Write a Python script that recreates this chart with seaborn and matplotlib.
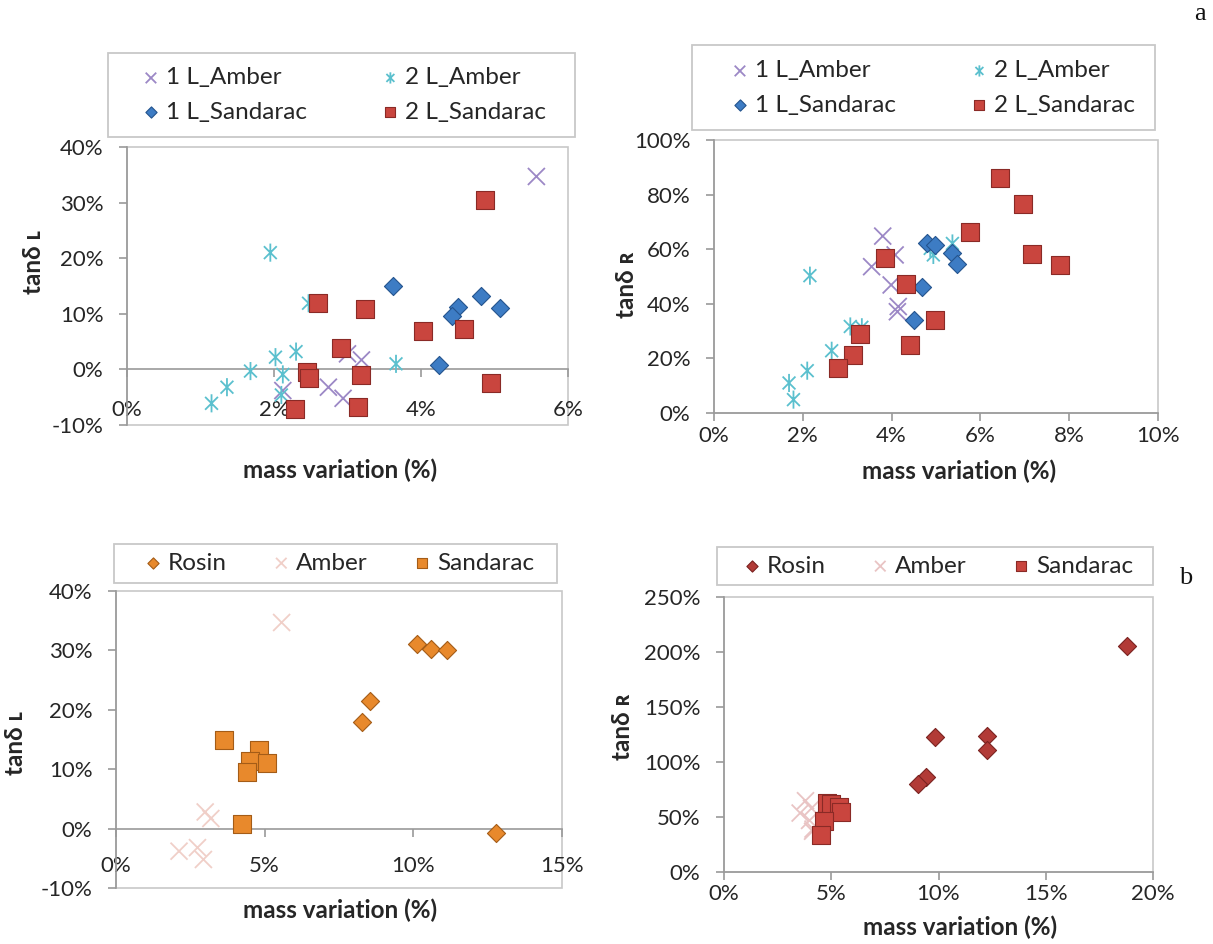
import matplotlib
matplotlib.use("Agg")
import matplotlib.pyplot as plt
from matplotlib.path import Path
from matplotlib.patches import Rectangle
from matplotlib.ticker import FuncFormatter, MultipleLocator
import seaborn as sns

sns.set_theme(style="white")
plt.rcParams['font.family'] = ['Lato', 'DejaVu Sans']

# ---------------- data (values in %) ----------------
# Panel a, left: tanδ L vs mass variation
aL_1L_amber_x = [5.57, 3.00, 3.19, 2.12, 2.74, 2.94]
aL_1L_amber_y = [34.7, 2.8, 1.7, -3.8, -3.2, -5.2]
aL_2L_amber_x = [1.95, 2.47, 2.30, 2.02, 2.12, 1.68, 1.36, 1.15, 3.66, 2.10]
aL_2L_amber_y = [21.0, 11.9, 3.2, 2.2, -0.9, -0.3, -3.2, -6.1, 1.0, -4.6]
aL_1L_sand_x = [3.62, 4.82, 4.51, 4.42, 5.07, 4.25]
aL_1L_sand_y = [15.0, 13.2, 11.3, 9.6, 11.1, 0.8]
aL_2L_sand_x = [4.87, 2.60, 3.24, 4.03, 4.59, 2.91, 2.45, 2.48, 3.18, 4.95, 2.28, 3.14]
aL_2L_sand_y = [30.5, 11.9, 10.8, 6.9, 7.2, 3.8, -0.4, -1.6, -1.0, -2.5, -7.1, -6.7]

# Panel a, right: tanδ R vs mass variation
aR_1L_amber_x = [3.80, 4.08, 3.55, 3.99, 4.15, 4.13]
aR_1L_amber_y = [64.8, 57.9, 53.6, 46.9, 39.0, 37.1]
aR_2L_amber_x = [2.16, 3.07, 3.33, 2.65, 2.10, 1.69, 1.79, 5.37, 4.87, 4.94]
aR_2L_amber_y = [50.3, 31.7, 31.4, 22.8, 15.5, 11.0, 4.9, 62.1, 60.3, 57.9]
aR_1L_sand_x = [4.79, 4.98, 5.36, 5.47, 4.68, 4.51]
aR_1L_sand_y = [62.3, 61.5, 58.7, 54.6, 46.0, 33.9]
aR_2L_sand_x = [6.45, 6.97, 5.77, 7.17, 7.80, 3.85, 4.32, 4.98, 4.42, 3.28, 3.12, 2.80]
aR_2L_sand_y = [86.1, 76.7, 66.4, 58.1, 54.2, 56.6, 47.1, 34.1, 25.0, 28.9, 21.3, 16.4]

# Panel b, left: tanδ L
bL_rosin_x = [10.12, 10.61, 11.13, 8.53, 8.27, 12.79]
bL_rosin_y = [31.0, 30.3, 30.0, 21.4, 17.9, -0.8]
bL_amber_x = aL_1L_amber_x
bL_amber_y = aL_1L_amber_y
bL_sand_x = aL_1L_sand_x
bL_sand_y = aL_1L_sand_y

# Panel b, right: tanδ R
bR_rosin_x = [18.79, 9.84, 12.25, 12.25, 9.42, 9.06]
bR_rosin_y = [205.3, 123.0, 123.6, 111.0, 86.8, 80.1]
bR_amber_x = aR_1L_amber_x
bR_amber_y = aR_1L_amber_y
bR_sand_x = aR_1L_sand_x
bR_sand_y = aR_1L_sand_y

legend_a = ["1 L_Amber", "2 L_Amber", "1 L_Sandarac", "2 L_Sandarac"]
legend_b = ["Rosin", "Amber", "Sandarac"]

# ---------------- styling ----------------
W, H = 1213, 944
fig = plt.figure(figsize=(W / 100, H / 100), dpi=100)

TXT = '#262626'
AXC = '#9A9A9A'
BORDER = '#C8C8C8'
TICK_FS = 16
LAB_FS = 17.5
LEG_FS = 17.5

M, L = Path.MOVETO, Path.LINETO
X_MARK = Path([(-1, -1), (1, 1), (-1, 1), (1, -1)], [M, L, M, L])
AST_MARK = Path([(-0.85, -0.85), (0.85, 0.85), (-0.85, 0.85), (0.85, -0.85),
                 (0, -1.2), (0, 1.2)], [M, L, M, L, M, L])


def ax_rect(x0, y0, x1, y1):
    return [x0 / W, 1 - y1 / H, (x1 - x0) / W, (y1 - y0) / H]


pct = FuncFormatter(lambda v, p: f"{v:.0f}%")


def setup(ax, xlim, ylim, xstep, ystep, xpad, zero_axis):
    ax.set_xlim(*xlim)
    ax.set_ylim(*ylim)
    ax.xaxis.set_major_locator(MultipleLocator(xstep))
    ax.yaxis.set_major_locator(MultipleLocator(ystep))
    ax.xaxis.set_major_formatter(pct)
    ax.yaxis.set_major_formatter(pct)
    for s in ['top', 'right']:
        ax.spines[s].set_visible(False)
    ax.spines['left'].set_color(AXC)
    ax.spines['bottom'].set_color(AXC)
    ax.spines['left'].set_linewidth(1.2)
    ax.spines['bottom'].set_linewidth(1.2)
    if zero_axis:
        ax.spines['bottom'].set_position(('data', 0))
    ax.patch.set_edgecolor(BORDER)
    ax.patch.set_linewidth(1.2)
    ax.tick_params(axis='both', direction='out', length=6, width=1.2,
                   color=AXC, labelsize=TICK_FS, labelcolor=TXT,
                   bottom=True, left=True)
    ax.tick_params(axis='x', pad=xpad)
    ax.tick_params(axis='y', pad=11)
    ax.grid(False)


def scat(ax, x, y, marker, s, fc, ec, lw, label, z):
    sns.scatterplot(x=x, y=y, ax=ax, marker=marker, s=s, color=ec,
                    facecolor=fc, edgecolor=ec, linewidth=lw,
                    clip_on=False, zorder=z, label=label, legend=False)
    return ax.collections[-1]


def labels(ax, ylab, xlc, ylc):
    ax.set_xlabel("mass variation (%)", fontsize=LAB_FS, fontweight='bold', color=TXT)
    ax.set_ylabel(ylab, fontsize=LAB_FS, fontweight='bold', color=TXT)
    ax.xaxis.set_label_coords(*xlc)
    ax.yaxis.set_label_coords(*ylc)


def legend_box(x0, y0, x1, y1):
    fig.add_artist(Rectangle((x0 / W, 1 - y1 / H), (x1 - x0) / W, (y1 - y0) / H,
                             transform=fig.transFigure, fill=False,
                             edgecolor=BORDER, linewidth=1.3))


def legend(handles, labs, cx, cy, ncol, colsp):
    fig.legend(handles, labs, loc='center',
               bbox_to_anchor=(cx / W, 1 - cy / H), ncol=ncol, frameon=False,
               fontsize=LEG_FS, labelcolor=TXT, handletextpad=0.15,
               handlelength=0.9, columnspacing=colsp, labelspacing=0.55,
               markerscale=0.62)


PURPLE = '#9C88C6'
CYAN = '#5BC0CE'
BLUE_F, BLUE_E = '#3D7CC4', '#24548E'
RED_F, RED_E = '#C9453E', '#8A2A26'
ORANGE_F, ORANGE_E = '#E8892C', '#A45C17'
PINK = '#F0CFC8'
DRED_F, DRED_E = '#B23B37', '#7A2220'
PINK2 = '#E9C4C4'

# ---------- a-left ----------
ax1 = fig.add_axes(ax_rect(127, 147, 568, 425))
setup(ax1, (0, 6), (-10, 40), 2, 10, 16, True)
h1 = scat(ax1, aL_1L_amber_x, aL_1L_amber_y, X_MARK, 150, 'none', PURPLE, 1.3, legend_a[0], 3)
h2 = scat(ax1, aL_2L_amber_x, aL_2L_amber_y, AST_MARK, 170, 'none', CYAN, 1.3, legend_a[1], 4)
h3 = scat(ax1, aL_1L_sand_x, aL_1L_sand_y, 'D', 85, BLUE_F, BLUE_E, 0.8, legend_a[2], 5)
h4 = scat(ax1, aL_2L_sand_x, aL_2L_sand_y, 's', 150, RED_F, RED_E, 0.8, legend_a[3], 6)
labels(ax1, "tanδ ʟ", (0.483, -0.119), (-0.186, 0.586))
legend_box(108, 53, 575, 137)
legend([h1, h3, h2, h4], [legend_a[0], legend_a[2], legend_a[1], legend_a[3]],
       343, 95, 2, 3.0)

# ---------- a-right ----------
ax2 = fig.add_axes(ax_rect(714, 140, 1158, 413))
setup(ax2, (0, 10), (0, 100), 2, 20, 3, False)
g1 = scat(ax2, aR_1L_amber_x, aR_1L_amber_y, X_MARK, 150, 'none', PURPLE, 1.3, legend_a[0], 3)
g2 = scat(ax2, aR_2L_amber_x, aR_2L_amber_y, AST_MARK, 170, 'none', CYAN, 1.3, legend_a[1], 4)
g3 = scat(ax2, aR_1L_sand_x, aR_1L_sand_y, 'D', 85, BLUE_F, BLUE_E, 0.8, legend_a[2], 5)
g4 = scat(ax2, aR_2L_sand_x, aR_2L_sand_y, 's', 150, RED_F, RED_E, 0.8, legend_a[3], 6)
labels(ax2, "tanδ ʀ", (0.552, -0.172), (-0.171, 0.469))
legend_box(692, 45, 1155, 130)
legend([g1, g3, g2, g4], [legend_a[0], legend_a[2], legend_a[1], legend_a[3]],
       932, 88, 2, 3.0)

# ---------- b-left ----------
ax3 = fig.add_axes(ax_rect(116, 591, 562, 888))
setup(ax3, (0, 15), (-10, 40), 5, 10, 14, True)
k1 = scat(ax3, bL_rosin_x, bL_rosin_y, 'D', 85, ORANGE_F, ORANGE_E, 0.8, legend_b[0], 3)
k2 = scat(ax3, bL_amber_x, bL_amber_y, X_MARK, 150, 'none', PINK, 1.3, legend_b[1], 4)
k3 = scat(ax3, bL_sand_x, bL_sand_y, 's', 150, ORANGE_F, ORANGE_E, 0.8, legend_b[2], 5)
labels(ax3, "tanδ ʟ", (0.502, -0.037), (-0.20, 0.488))
legend_box(114, 544, 557, 583)
legend([k1, k2, k3], legend_b, 338, 563, 3, 1.8)

# ---------- b-right ----------
ax4 = fig.add_axes(ax_rect(724, 597, 1153, 872))
setup(ax4, (0, 20), (0, 250), 5, 50, 3, False)
r1 = scat(ax4, bR_rosin_x, bR_rosin_y, 'D', 85, DRED_F, DRED_E, 0.8, legend_b[0], 3)
r2 = scat(ax4, bR_amber_x, bR_amber_y, X_MARK, 150, 'none', PINK2, 1.3, legend_b[1], 4)
r3 = scat(ax4, bR_sand_x, bR_sand_y, 's', 150, RED_F, RED_E, 0.8, legend_b[2], 5)
labels(ax4, "tanδ ʀ", (0.55, -0.16), (-0.21, 0.527))
legend_box(717, 547, 1153, 585)
legend([r1, r2, r3], legend_b, 937, 566, 3, 1.8)

# panel letters
fig.text(1200 / W, 1 - 14 / H, "a", fontsize=19, family='Liberation Serif',
         ha='center', va='center', color='#111111')
fig.text(1186 / W, 1 - 578 / H, "b", fontsize=19, family='Liberation Serif',
         ha='center', va='center', color='#111111')

fig.savefig("out.png", dpi=100)
